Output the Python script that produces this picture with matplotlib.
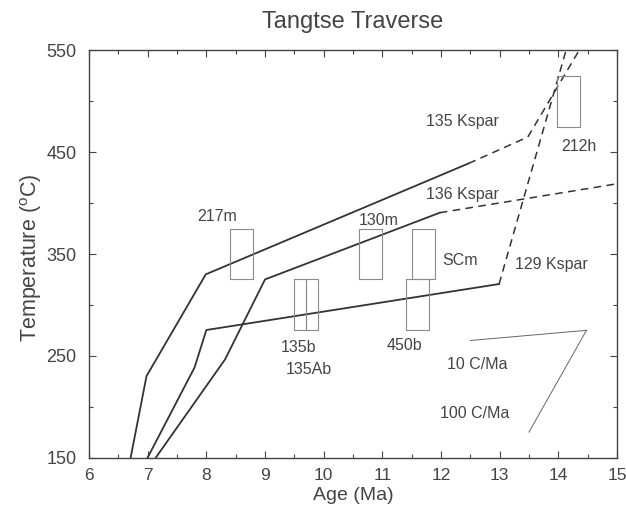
import matplotlib
matplotlib.use("Agg")
import matplotlib.pyplot as plt
from matplotlib.ticker import MultipleLocator, FixedLocator

plt.rcParams['font.family'] = ['Liberation Sans', 'DejaVu Sans']
plt.rcParams['mathtext.fontset'] = 'custom'
plt.rcParams['mathtext.rm'] = 'Liberation Sans'
plt.rcParams['mathtext.it'] = 'Liberation Sans'

# Cooling paths (solid part, then dashed continuation)
k135_solid_x = [6.71, 6.98, 7.99, 12.47]
k135_solid_y = [150, 230, 330, 439]
k135_dash_x = [12.47, 13.48, 14.60]
k135_dash_y = [439, 465, 574]

k136_solid_x = [7.14, 8.32, 9.0, 11.98]
k136_solid_y = [150, 246.5, 325, 390.6]
k136_dash_x = [11.98, 15.0]
k136_dash_y = [390.6, 419]

k129_solid_x = [7.0, 7.80, 8.0, 12.99]
k129_solid_y = [150, 238.6, 275.3, 320.5]
k129_dash_x = [12.99, 14.25]
k129_dash_y = [320.5, 574]

# Sample boxes: (label, x0, x1, y0, y1)
box_names = ['217m', '135b', '135Ab', '130m', 'SCm', '450b', '212h']
box_x0 = [8.4, 9.5, 9.7, 10.6, 11.5, 11.4, 13.97]
box_x1 = [8.8, 9.7, 9.9, 11.0, 11.9, 11.8, 14.37]
box_y0 = [325, 275, 275, 325, 325, 275, 475]
box_y1 = [375, 325, 325, 375, 375, 325, 525]

# Reference cooling-rate lines
rate10_x = [12.5, 14.48]
rate10_y = [265, 275]
rate100_x = [14.48, 13.5]
rate100_y = [275, 175]

# Labels
label_text = ['217m', '135 Kspar', '212h', '136 Kspar', '130m', 'SCm', '129 Kspar',
              '135b', '135Ab', '450b', '10 C/Ma', '100 C/Ma']
label_x = [8.19, 12.36, 14.35, 12.36, 10.93, 12.32, 13.89, 9.57, 9.74, 11.37, 12.62, 12.58]
label_y = [386.6, 480.7, 455.5, 408, 382.7, 343.4, 339.2, 258.3, 236.7, 259.6, 241.6, 192.8]

x_ticks = [6, 7, 8, 9, 10, 11, 12, 13, 14, 15]
y_ticks = [150, 250, 350, 450, 550]

fig = plt.figure(figsize=(6.26, 5.07), dpi=100)
ax = fig.add_axes([0.1422, 0.0976, 0.8434, 0.8028])

lc = '#333333'
tc = '#444444'
bc = '#8a8a8a'

ax.plot(k135_solid_x, k135_solid_y, color=lc, lw=1.3)
ax.plot(k135_dash_x, k135_dash_y, color=lc, lw=1.1, dashes=(5, 3.5))
ax.plot(k136_solid_x, k136_solid_y, color=lc, lw=1.3)
ax.plot(k136_dash_x, k136_dash_y, color=lc, lw=1.1, dashes=(5, 3.5))
ax.plot(k129_solid_x, k129_solid_y, color=lc, lw=1.3)
ax.plot(k129_dash_x, k129_dash_y, color=lc, lw=1.1, dashes=(5, 3.5))

for x0, x1, y0, y1 in zip(box_x0, box_x1, box_y0, box_y1):
    ax.plot([x0, x1, x1, x0, x0], [y0, y0, y1, y1, y0], color=bc, lw=0.8)

ax.plot(rate10_x, rate10_y, color='#666666', lw=0.7)
ax.plot(rate100_x, rate100_y, color='#666666', lw=0.7)

for t, x, y in zip(label_text, label_x, label_y):
    ax.text(x, y, t, ha='center', va='center', fontsize=11.5, color=tc)

ax.set_xlim(6, 15)
ax.set_ylim(150, 550)
ax.xaxis.set_major_locator(FixedLocator(x_ticks))
ax.xaxis.set_minor_locator(MultipleLocator(0.5))
ax.yaxis.set_major_locator(FixedLocator(y_ticks))
ax.yaxis.set_minor_locator(MultipleLocator(50))
ax.tick_params(which='both', direction='in', top=True, right=True, colors='#444444',
               labelcolor=tc)
ax.tick_params(which='major', length=5, width=0.8)
ax.tick_params(which='minor', length=3, width=0.8)
ax.tick_params(axis='x', which='major', pad=7.5, labelsize=12.5)
ax.tick_params(axis='y', which='major', pad=9, labelsize=13)
for s in ax.spines.values():
    s.set_color('#444444')
    s.set_linewidth(1.0)

ax.set_xlabel('Age (Ma)', fontsize=14, color=tc, labelpad=3)
ax.set_ylabel('Temperature ($^{\\rm o}$C)', fontsize=15.5, color=tc)
ax.yaxis.set_label_coords(-0.085, 0.49)
ax.set_title('Tangtse Traverse', fontsize=17, color=tc, pad=16)

fig.savefig('out.png', dpi=100)
